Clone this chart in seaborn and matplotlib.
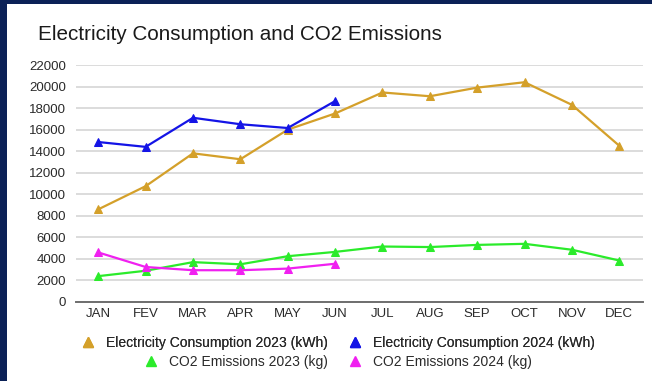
import matplotlib
matplotlib.use("Agg")
import matplotlib.pyplot as plt
from matplotlib.patches import Rectangle
from matplotlib.lines import Line2D
import seaborn as sns
import pandas as pd

months = ["JAN", "FEV", "MAR", "APR", "MAY", "JUN", "JUL", "AUG", "SEP", "OCT", "NOV", "DEC"]
elec_2023 = [8600, 10750, 13800, 13250, 16000, 17500, 19450, 19100, 19900, 20400, 18300, 14500]
elec_2024 = [14850, 14400, 17100, 16500, 16150, 18650]
co2_2023 = [2400, 2900, 3700, 3500, 4250, 4650, 5150, 5100, 5300, 5400, 4850, 3850]
co2_2024 = [4600, 3250, 2950, 2950, 3100, 3550]
series_names = ["Electricity Consumption 2023 (kWh)", "Electricity Consumption 2024 (kWh)",
                "CO2 Emissions 2023 (kg)", "CO2 Emissions 2024 (kg)"]
colors = ["#D4A02A", "#1414E6", "#2BEB2B", "#F020F0"]
yticks = list(range(0, 22001, 2000))

sns.set_theme(style="white")
plt.rcParams['font.family'] = ['Liberation Sans', 'DejaVu Sans']

fig = plt.figure(figsize=(6.52, 3.81), dpi=100)
fig.patch.set_facecolor("#0B2157")
fig.add_artist(Rectangle((7/652, 0), 1, 1 - 4/381, transform=fig.transFigure,
                         facecolor="white", edgecolor="none", zorder=0))

ax = fig.add_axes([76/652, 1 - 302/381, (643 - 76)/652, (302 - 65)/381])
ax.set_facecolor("none")

data = [elec_2023, elec_2024, co2_2023, co2_2024]
for name, vals, c in zip(series_names, data, colors):
    df = pd.DataFrame({"month": months[:len(vals)], "value": vals})
    df["x"] = range(len(vals))
    sns.lineplot(data=df, x="x", y="value", ax=ax, color=c, linewidth=1.6,
                 marker="^", markersize=6, markeredgecolor=c, clip_on=False, zorder=3)

ax.set_xlim(-0.47, 11.5)
ax.set_ylim(0, 22000)
ax.set_xticks(range(len(months)))
ax.set_xticklabels(months)
ax.set_yticks(yticks)
ax.set_yticklabels([str(v) for v in yticks])
ax.set_xlabel("")
ax.set_ylabel("")
ax.grid(axis="y", color="#D9D9D9", linewidth=1.3)
ax.set_axisbelow(True)
for s in ["top", "right", "left"]:
    ax.spines[s].set_visible(False)
ax.spines["bottom"].set_color("#6E6E6E")
ax.spines["bottom"].set_linewidth(1.4)
ax.spines["bottom"].set_zorder(2)
ax.tick_params(axis="both", length=0, labelsize=9.5, labelcolor="#2A2A2A")
ax.tick_params(axis="y", pad=7)
ax.tick_params(axis="x", pad=4)

fig.text(38/652, 1 - 34/381, "Electricity Consumption and CO2 Emissions",
         fontsize=14.9, color="#1A1A1A", va="center", ha="left")

def handle(c):
    return Line2D([], [], linestyle="none", marker="^", markersize=7.5,
                  markerfacecolor=c, markeredgecolor=c)

leg_kw = dict(loc="center", ncol=2, frameon=False, fontsize=10, handlelength=1.0,
              handletextpad=0.8, columnspacing=1.4, labelcolor="#2A2A2A",
              borderpad=0, borderaxespad=0)
leg1 = fig.legend([handle(colors[0]), handle(colors[1])], series_names[:2],
                  bbox_to_anchor=(338/652, 1 - 343/381), **leg_kw)
fig.add_artist(leg1)
leg2 = fig.legend([handle(colors[2]), handle(colors[3])], series_names[2:],
                  bbox_to_anchor=(338/652, 1 - 362/381), **leg_kw)

fig.savefig("out.png", dpi=100, facecolor=fig.get_facecolor())
